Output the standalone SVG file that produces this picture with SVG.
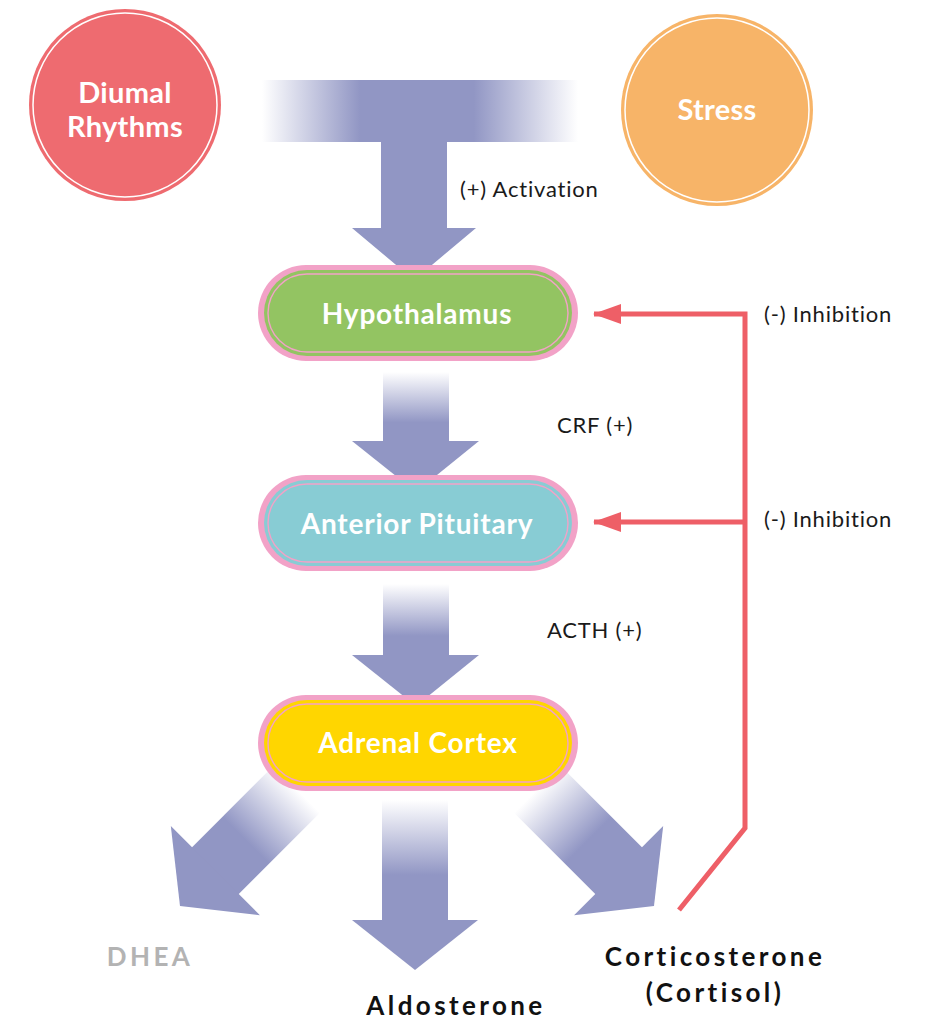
<svg xmlns="http://www.w3.org/2000/svg" width="932" height="1020" viewBox="0 0 932 1020">
<style>
  .node-label{font-family:Lato,"Noto Sans",sans-serif;font-weight:700;fill:#ffffff;text-anchor:middle;font-size:28px;letter-spacing:0.8px}
  .circle-label{font-family:Lato,"Noto Sans",sans-serif;font-weight:700;fill:#ffffff;text-anchor:middle;font-size:29px;letter-spacing:0.3px}
  .edge-label{font-family:Lato,"Noto Sans",sans-serif;font-weight:400;fill:#1a1a1a;font-size:22px;letter-spacing:0.8px}
  .out-label{font-family:Lato,"Noto Sans",sans-serif;font-weight:700;fill:#111111;text-anchor:middle;font-size:26px;letter-spacing:3.4px}
  .pink{fill:#f2a2c7}
  .ring{fill:none;stroke:#f2a2c7;stroke-width:1.4}
  .arrow{fill:#9196c4}
  .inhib{fill:none;stroke:#ee5f67;stroke-width:5;stroke-linejoin:miter}
</style>
<defs>
  <linearGradient id="barGrad" x1="262" y1="0" x2="578" y2="0" gradientUnits="userSpaceOnUse">
    <stop offset="0" stop-color="#9196c4" stop-opacity="0"/>
    <stop offset="0.31" stop-color="#9196c4" stop-opacity="1"/>
    <stop offset="0.67" stop-color="#9196c4" stop-opacity="1"/>
    <stop offset="1" stop-color="#9196c4" stop-opacity="0"/>
  </linearGradient>
  <linearGradient id="shaftGrad" x1="0" y1="0" x2="0" y2="1">
    <stop offset="0" stop-color="#9196c4" stop-opacity="0"/>
    <stop offset="0.72" stop-color="#9196c4" stop-opacity="1"/>
    <stop offset="1" stop-color="#9196c4" stop-opacity="1"/>
  </linearGradient>
  <linearGradient id="longShaftGrad" x1="0" y1="0" x2="0" y2="1">
    <stop offset="0" stop-color="#9196c4" stop-opacity="0"/>
    <stop offset="0.62" stop-color="#9196c4" stop-opacity="1"/>
    <stop offset="1" stop-color="#9196c4" stop-opacity="1"/>
  </linearGradient>
  <marker id="redHead" viewBox="0 0 28 20" refX="27" refY="10" markerWidth="28" markerHeight="20" markerUnits="userSpaceOnUse" orient="auto">
    <path d="M0,0 L28,10 L0,20 Z" fill="#ee5f67"/>
  </marker>
</defs>

<g id="connectors">
  <g id="activation-arrow">
    <rect x="262" y="80" width="316" height="62" fill="url(#barGrad)"/>
    <path class="arrow" d="M381,141 L447,141 L447,228 L476,228 L414,280 L352,228 L381,228 Z"/>
  </g>
  <g id="crf-arrow">
    <rect x="383" y="372" width="66" height="70" fill="url(#shaftGrad)"/>
    <path class="arrow" d="M352,441 L479,441 L416,492 Z"/>
  </g>
  <g id="acth-arrow">
    <rect x="383" y="584" width="66" height="72" fill="url(#shaftGrad)"/>
    <path class="arrow" d="M352,655 L479,655 L416,706 Z"/>
  </g>
  <g id="aldosterone-arrow" transform="translate(415,970)">
    <rect x="-33" y="-170" width="66" height="121" fill="url(#longShaftGrad)"/>
    <path class="arrow" d="M-63,-50 L63,-50 L0,0 Z"/>
  </g>
  <g id="dhea-arrow" transform="translate(180,906) rotate(45)">
    <rect x="-33" y="-165" width="66" height="116" fill="url(#longShaftGrad)"/>
    <path class="arrow" d="M-63,-50 L63,-50 L0,0 Z"/>
  </g>
  <g id="cortisol-arrow" transform="translate(654,906) rotate(-45)">
    <rect x="-33" y="-165" width="66" height="116" fill="url(#longShaftGrad)"/>
    <path class="arrow" d="M-63,-50 L63,-50 L0,0 Z"/>
  </g>
  <g id="feedback">
    <path class="inhib" d="M679,910 L745,828 L745,314 L594,314" marker-end="url(#redHead)"/>
    <path class="inhib" d="M745,522 L594,522" marker-end="url(#redHead)"/>
  </g>
  <text class="edge-label" x="460" y="197">(+) Activation</text>
  <text class="edge-label" x="557" y="433">CRF (+)</text>
  <text class="edge-label" x="547" y="638">ACTH (+)</text>
  <text class="edge-label" x="764" y="322">(-) Inhibition</text>
  <text class="edge-label" x="764" y="527">(-) Inhibition</text>
</g>

<g id="diurnal-rhythms">
  <circle cx="125" cy="105" r="96" fill="#ee6b70"/>
  <circle cx="125" cy="105" r="92" fill="none" stroke="#ffffff" stroke-width="1.5"/>
  <text class="circle-label" x="125" y="103">Diumal</text>
  <text class="circle-label" x="125" y="137">Rhythms</text>
</g>

<g id="stress">
  <circle cx="717" cy="110" r="96" fill="#f7b468"/>
  <circle cx="717" cy="110" r="92" fill="none" stroke="#ffffff" stroke-width="1.5"/>
  <text class="circle-label" x="717" y="120">Stress</text>
</g>

<g id="hypothalamus">
  <rect class="pink" x="258" y="265" width="320" height="96" rx="48"/>
  <rect x="264" y="270" width="308" height="86" rx="43" fill="#93c462"/>
  <rect class="ring" x="268" y="274" width="300" height="78" rx="39"/>
  <text class="node-label" x="417" y="324">Hypothalamus</text>
</g>

<g id="anterior-pituitary">
  <rect class="pink" x="258" y="475" width="320" height="96" rx="48"/>
  <rect x="264" y="480" width="308" height="86" rx="43" fill="#88ccd4"/>
  <rect class="ring" x="268" y="484" width="300" height="78" rx="39"/>
  <text class="node-label" x="417" y="534">Anterior Pituitary</text>
</g>

<g id="adrenal-cortex">
  <rect class="pink" x="258" y="695" width="320" height="96" rx="48"/>
  <rect x="264" y="700" width="308" height="86" rx="43" fill="#ffd600"/>
  <rect class="ring" x="268" y="704" width="300" height="78" rx="39"/>
  <text class="node-label" x="418" y="753">Adrenal Cortex</text>
</g>

<g id="dhea">
  <text class="out-label" x="150" y="966" style="fill:#b3b3b3">DHEA</text>
</g>
<g id="aldosterone">
  <text class="out-label" x="456" y="1015">Aldosterone</text>
</g>
<g id="corticosterone">
  <text class="out-label" x="715" y="966">Corticosterone</text>
  <text class="out-label" x="715" y="1002">(Cortisol)</text>
</g>
</svg>
